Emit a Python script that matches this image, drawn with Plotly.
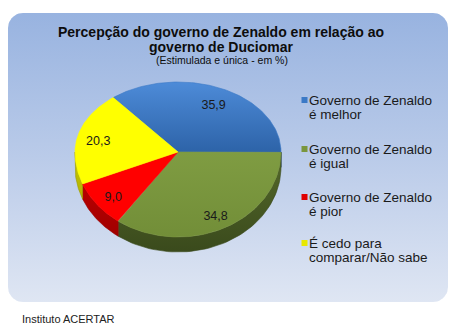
import numpy as np
import plotly.graph_objects as go

# ---------------- data ----------------
categories = [
    "Governo de Zenaldo<br>é melhor",
    "Governo de Zenaldo<br>é igual",
    "Governo de Zenaldo<br>é pior",
    "É cedo para<br>comparar/Não sabe",
]
values = [35.9, 34.8, 9.0, 20.3]
title_lines = ["Percepção do governo de Zenaldo em relação ao", "governo de Duciomar"]
subtitle = "(Estimulada e única - em %)"
source = "Instituto ACERTAR"

# ---------------- style ----------------
W, H = 464, 332
FONT = "Liberation Sans, Arial, sans-serif"
top_colors = ["#3b79c6", "#7a963d", "#ff0000", "#ffff00"]
top_grad = [("#4d8bd8", "#2d63a8"), ("#7f9c42", "#728e38"), None, None]
side_colors = [("#2a5590", "#1e3f6c"), ("#55692b", "#3a4a1c"), ("#c80000", "#990000"), ("#c8c800", "#9a9a00")]
legend_colors = ["#3b79c6", "#7a963d", "#e00000", "#e8e800"]

cx, cy, rx, ry_top, ry_bot, depth = 178.0, 152.0, 103.0, 70.0, 85.0, 15.0
first_angle = 321.0
label_frac = 0.8
label_dy = 4.0

fig = go.Figure()

# background rounded rectangle with gradient
bx0, by0, bx1, by1, r = 8, 13, 448, 302, 15
def arc(xc, yc, a0, a1, n=12):
    a = np.radians(np.linspace(a0, a1, n))
    return xc + r * np.cos(a), yc + r * np.sin(a)
pts = [arc(bx1 - r, by0 + r, -90, 0), arc(bx1 - r, by1 - r, 0, 90),
       arc(bx0 + r, by1 - r, 90, 180), arc(bx0 + r, by0 + r, 180, 270)]
bgx = np.concatenate([p[0] for p in pts] + [pts[0][0][:1]])
bgy = np.concatenate([p[1] for p in pts] + [pts[0][1][:1]])
fig.add_trace(go.Scatter(
    x=bgx, y=bgy, mode="lines", fill="toself", line=dict(width=0),
    fillgradient=dict(type="vertical", start=by0, stop=by1,
                      colorscale=[[0, "#98b3e0"], [0.5, "#bacbe9"], [1, "#dfe6f3"]]),
    hoverinfo="skip"))

def edge(t_deg):
    t = np.radians(t_deg)
    c = np.cos(t)
    ry = np.where(c >= 0, ry_top, ry_bot)
    return cx + rx * np.sin(t), cy - ry * c

total = sum(values)
starts, ends = [], []
a = first_angle
for v in values:
    starts.append(a)
    a = a + 360.0 * v / total
    ends.append(a)

# sides (visible between 90 and 270 degrees)
for i in range(len(values)):
    for shift in (0.0, 360.0):
        a0 = max(starts[i] - shift, 90.0)
        a1 = min(ends[i] - shift, 270.0)
        if a1 > a0:
            t = np.linspace(a0, a1, 60)
            ex, ey = edge(t)
            sx = np.concatenate([ex, ex[::-1], ex[:1]])
            sy = np.concatenate([ey, ey[::-1] + depth, ey[:1]])
            c0, c1 = side_colors[i]
            fig.add_trace(go.Scatter(
                x=sx, y=sy, mode="lines", fill="toself",
                line=dict(width=0.6, color=c1),
                fillgradient=dict(type="vertical", start=cy, stop=cy + ry_bot + depth,
                                  colorscale=[[0, c0], [1, c1]]),
                hoverinfo="skip"))

# tops
for i in range(len(values)):
    t = np.linspace(starts[i], ends[i], 120)
    ex, ey = edge(t)
    px = np.concatenate([[cx], ex, [cx]])
    py = np.concatenate([[cy], ey, [cy]])
    kw = dict(fillcolor=top_colors[i])
    if top_grad[i] is not None:
        kw = dict(fillgradient=dict(type="vertical", start=float(ey.min()), stop=float(ey.max()),
                                    colorscale=[[0, top_grad[i][0]], [1, top_grad[i][1]]]))
    fig.add_trace(go.Scatter(
        x=px, y=py, mode="lines", fill="toself",
        line=dict(width=0.6, color=top_colors[i]), hoverinfo="skip", **kw))

# data labels
lx, ly, lt = [], [], []
for i, v in enumerate(values):
    mid = (starts[i] + ends[i]) / 2
    t = np.radians(mid)
    c = np.cos(t)
    ry = ry_top if c >= 0 else ry_bot
    lx.append(cx + rx * label_frac * np.sin(t))
    ly.append(cy - ry * label_frac * c + label_dy)
    lt.append(f"{v:.1f}".replace(".", ","))
fig.add_trace(go.Scatter(x=lx, y=ly, mode="text", text=lt,
                         textfont=dict(family=FONT, size=12.5, color="#1a1a1a"),
                         hoverinfo="skip"))

# legend
leg_y = [100, 149, 197, 243]
fig.add_trace(go.Scatter(x=[304.5] * 4, y=leg_y, mode="markers",
                         marker=dict(symbol="square", size=6, color=legend_colors,
                                     line=dict(width=0)),
                         hoverinfo="skip"))
annotations = []
for i, cat in enumerate(categories):
    for j, line in enumerate(cat.split("<br>")):
        annotations.append(dict(x=306.5, y=leg_y[i] + 14 * j, xref="x", yref="y",
                                text=line, showarrow=False, xanchor="left", yanchor="middle",
                                font=dict(family=FONT, size=13.5, color="#1a1a1a")))

annotations.append(dict(x=221, y=32, xref="x", yref="y", text=f"<b>{title_lines[0]}</b>",
                        showarrow=False, xanchor="center", yanchor="middle",
                        font=dict(family=FONT, size=14, color="#0d0d0d")))
annotations.append(dict(x=221, y=47, xref="x", yref="y", text=f"<b>{title_lines[1]}</b>",
                        showarrow=False, xanchor="center", yanchor="middle",
                        font=dict(family=FONT, size=14, color="#0d0d0d")))
annotations.append(dict(x=222, y=60, xref="x", yref="y", text=subtitle,
                        showarrow=False, xanchor="center", yanchor="middle",
                        font=dict(family=FONT, size=10.5, color="#0d0d0d")))
annotations.append(dict(x=19.5, y=319, xref="x", yref="y", text=source,
                        showarrow=False, xanchor="left", yanchor="middle",
                        font=dict(family=FONT, size=11, color="#222222")))

fig.update_layout(
    width=W, height=H, margin=dict(l=0, r=0, t=0, b=0),
    paper_bgcolor="white", plot_bgcolor="rgba(0,0,0,0)",
    showlegend=False, annotations=annotations,
    xaxis=dict(range=[0, W], visible=False, fixedrange=True),
    yaxis=dict(range=[H, 0], visible=False, fixedrange=True),
)
fig.write_html("out.html")
